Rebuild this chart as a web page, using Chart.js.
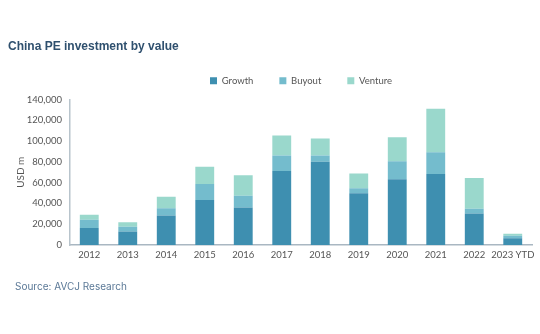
<!DOCTYPE html>
<html>
<head>
<meta charset="utf-8">
<script src="https://cdn.jsdelivr.net/npm/chart.js@4"></script>
<style>
  body { margin: 0; background: #fff; }
  #wrap { position: relative; width: 540px; height: 334px; }
  #title { position: absolute; left: 8px; top: 39px; font: bold 12px "Liberation Sans", Arial, sans-serif; color: #2f506e; }
  #source { position: absolute; left: 15px; top: 280px; font: 10px "Inter", sans-serif; color: #5a7896; }
  canvas { position: absolute; left: 0; top: 0; }
</style>
</head>
<body>
<div id="wrap">
  <canvas id="myChart" width="540" height="334"></canvas>
  <div id="title">China PE investment by value</div>
  <div id="source">Source: AVCJ Research</div>
</div>
<script>
// valori in USD m
const years = ['2012','2013','2014','2015','2016','2017','2018','2019','2020','2021','2022','2023 YTD'];
const growth  = [16400, 13000, 28500, 43400, 36000, 71300, 80200, 49700, 63200, 68400, 30200, 6400];
const buyout  = [8000, 4500, 6800, 15400, 11300, 14700, 5800, 4800, 17300, 20800, 4800, 2600];
const venture = [4800, 4500, 11200, 16600, 19800, 19300, 16400, 14200, 23200, 41800, 29500, 1900];

const tickFont = { family: 'Lato', size: 9.5 };

// sposta la legenda sopra l'area del grafico
const legendShift = {
    id: 'legendShift',
    afterLayout: function (chart) {
        chart.legend.left += 35;
        chart.legend.right += 35;
        chart.legend.top -= 4;
    }
};

var ctx = document.getElementById('myChart').getContext('2d');
var myChart = new Chart(ctx, {
    type: 'bar',
    data: {
        labels: years,
        datasets: [
            { label: 'Growth', data: growth, backgroundColor: '#3e8fb0' },
            { label: 'Buyout', data: buyout, backgroundColor: '#74bccd' },
            { label: 'Venture', data: venture, backgroundColor: '#9ad8cc' }
        ]
    },
    options: {
        responsive: false,
        animation: false,
        categoryPercentage: 1,
        barPercentage: 0.49,
        layout: { padding: { left: 0, right: 8, top: 54, bottom: 65 } },
        plugins: {
            legend: {
                position: 'top',
                labels: { boxWidth: 7, boxHeight: 7, font: tickFont, color: '#555', padding: 26 }
            },
            tooltip: { enabled: false }
        },
        scales: {
            x: {
                stacked: true,
                grid: { display: false, drawTicks: false },
                border: { color: '#a9b7c2', width: 1.5 },
                ticks: { font: tickFont, color: '#555', padding: 4, maxRotation: 0, autoSkip: false },
                afterFit: function (scale) { scale.height = 24; }
            },
            y: {
                stacked: true,
                min: 0,
                max: 140000,
                grid: { display: false, drawTicks: false },
                border: { color: '#b8c4cc', width: 1.5 },
                ticks: {
                    stepSize: 20000,
                    font: tickFont,
                    color: '#555',
                    padding: 8,
                    callback: function (v) { return v.toLocaleString('en-US'); }
                },
                title: { display: true, text: 'USD m', font: { family: 'Lato', size: 10 }, color: '#555', padding: { top: 15, bottom: 0 } },
                afterFit: function (scale) { scale.width = 70; }
            }
        }
    },
    plugins: [legendShift]
});
</script>
</body>
</html>
